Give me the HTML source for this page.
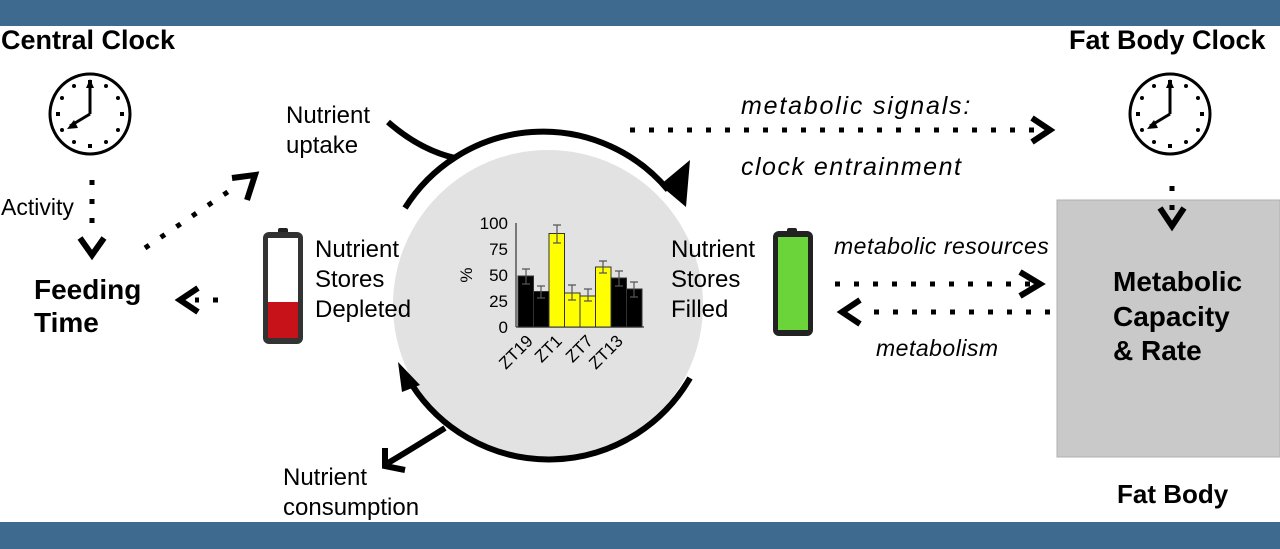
<!DOCTYPE html>
<html><head><style>
body{margin:0;width:1280px;height:549px;overflow:hidden;background:#fff}
svg{display:block}
text{font-family:"Liberation Sans",sans-serif}
</style></head><body>
<svg width="1280" height="549" viewBox="0 0 1280 549">
<rect x="0" y="0" width="1280" height="26" fill="#3f6a8f"/>
<rect x="0" y="522" width="1280" height="27" fill="#3f6a8f"/>
<!-- big circle -->
<circle cx="548" cy="305" r="155" fill="#e2e2e2"/>
<!-- grey box -->
<rect x="1057" y="200" width="223" height="257" fill="#c9c9c9" stroke="#b0b0b0"/>
<!-- titles -->
<text x="1" y="49" font-size="27" font-weight="bold">Central Clock</text>
<text x="1069" y="49" font-size="27" font-weight="bold">Fat Body Clock</text>
<text x="1117" y="503" font-size="26" font-weight="bold">Fat Body</text>
<text x="1113" y="291" font-size="28" font-weight="bold">Metabolic</text>
<text x="1113" y="326" font-size="28" font-weight="bold">Capacity</text>
<text x="1113" y="360" font-size="28" font-weight="bold">&amp; Rate</text>
<text x="34" y="299" font-size="28" font-weight="bold">Feeding</text>
<text x="34" y="332" font-size="28" font-weight="bold">Time</text>
<text x="1" y="215" font-size="23">Activity</text>
<text x="286" y="123" font-size="24">Nutrient</text>
<text x="286" y="153" font-size="24">uptake</text>
<text x="283" y="485" font-size="24">Nutrient</text>
<text x="283" y="515" font-size="24">consumption</text>
<text x="315" y="257" font-size="24">Nutrient</text>
<text x="315" y="287" font-size="24">Stores</text>
<text x="315" y="317" font-size="24">Depleted</text>
<text x="671" y="257" font-size="24">Nutrient</text>
<text x="671" y="287" font-size="24">Stores</text>
<text x="671" y="317" font-size="24">Filled</text>
<text x="741" y="114" font-size="25" font-style="italic" letter-spacing="1.8">metabolic signals:</text>
<text x="741" y="175" font-size="25" font-style="italic" letter-spacing="1.5">clock entrainment</text>
<text x="834" y="254" font-size="23" font-style="italic" letter-spacing="0.5">metabolic resources</text>
<text x="876" y="356" font-size="23" font-style="italic" letter-spacing="0.5">metabolism</text>
<!-- clocks -->
<g transform="translate(90,114)">
<circle r="40" fill="#fff" stroke="#000" stroke-width="3"/>
<g fill="#000">
<rect x="-2" y="-34" width="4" height="4"/><rect x="-2" y="30" width="4" height="4"/><rect x="-34" y="-2" width="4" height="4"/><rect x="30" y="-2" width="4" height="4"/>
<circle cx="16" cy="-28" r="2"/><circle cx="28" cy="-16" r="2"/><circle cx="28" cy="16" r="2"/><circle cx="16" cy="28" r="2"/><circle cx="-16" cy="28" r="2"/><circle cx="-28" cy="16" r="2"/><circle cx="-28" cy="-16" r="2"/><circle cx="-16" cy="-28" r="2"/>
</g>
<line x1="0" y1="0" x2="0" y2="-30" stroke="#000" stroke-width="3"/><polygon points="-4,-26 4,-26 0,-35"/>
<line x1="0" y1="0" x2="-20" y2="12" stroke="#000" stroke-width="3"/><polygon points="-16,6 -12,14 -23,15"/>
</g>
<g transform="translate(1170,114)">
<circle r="40" fill="#fff" stroke="#000" stroke-width="3"/>
<g fill="#000">
<rect x="-2" y="-34" width="4" height="4"/><rect x="-2" y="30" width="4" height="4"/><rect x="-34" y="-2" width="4" height="4"/><rect x="30" y="-2" width="4" height="4"/>
<circle cx="16" cy="-28" r="2"/><circle cx="28" cy="-16" r="2"/><circle cx="28" cy="16" r="2"/><circle cx="16" cy="28" r="2"/><circle cx="-16" cy="28" r="2"/><circle cx="-28" cy="16" r="2"/><circle cx="-28" cy="-16" r="2"/><circle cx="-16" cy="-28" r="2"/>
</g>
<line x1="0" y1="0" x2="0" y2="-30" stroke="#000" stroke-width="3"/><polygon points="-4,-26 4,-26 0,-35"/>
<line x1="0" y1="0" x2="-20" y2="12" stroke="#000" stroke-width="3"/><polygon points="-16,6 -12,14 -23,15"/>
</g>
<!-- dotted arrows -->
<g stroke="#000" stroke-width="5" fill="none" stroke-dasharray="5 14">
<line x1="92" y1="180" x2="92" y2="232"/>
<line x1="145" y1="248" x2="238" y2="185"/>
<line x1="218" y1="300" x2="195" y2="300"/>
<line x1="630" y1="130" x2="1040" y2="130"/>
<line x1="1172" y1="186" x2="1172" y2="212"/>
<line x1="835" y1="284" x2="1040" y2="284"/>
<line x1="1050" y1="312" x2="860" y2="312"/>
</g>
<g stroke="#000" stroke-width="6" fill="none">
<polyline points="80,238 92,255 104,238"/>
<polyline points="232,178 255,175 247,200"/>
<polyline points="198,288 180,300 198,312"/>
<polyline points="1032,118 1050,130 1032,142"/>
<polyline points="1160,208 1172,226 1184,208"/>
<polyline points="1020,272 1040,284 1020,296"/>
<polyline points="860,300 842,312 860,324"/>
</g>
<g stroke="#000" stroke-width="6" fill="none">
<path d="M405,208 A163,163 0 0 1 668,190"/>
<path d="M690,378 A163,163 0 0 1 412,385"/>
<path d="M388,122 Q420,150 455,158"/>
<path d="M445,428 Q410,450 388,463"/>
</g>
<polygon points="660,185 690,160 686,207" fill="#000"/>
<polygon points="398,362 420,385 402,392" fill="#000"/>
<polyline points="385,448 385,466 405,470" stroke="#000" stroke-width="6" fill="none"/>
<!-- chart -->
<g font-size="17">
<line x1="516" y1="223" x2="516" y2="327" stroke="#555" stroke-width="1.5"/>
<line x1="516" y1="327" x2="644" y2="327" stroke="#555" stroke-width="1.5"/>
<text x="508" y="229" text-anchor="end">100</text>
<text x="508" y="255" text-anchor="end">75</text>
<text x="508" y="281" text-anchor="end">50</text>
<text x="508" y="307" text-anchor="end">25</text>
<text x="508" y="333" text-anchor="end">0</text>
<text x="466" y="281" transform="rotate(-90 466 275)" text-anchor="middle">%</text>
<g stroke="#333" stroke-width="1">
<rect x="518" y="276" width="15.5" height="51" fill="#000"/>
<rect x="533.5" y="291.5" width="15.5" height="35.5" fill="#000"/>
<rect x="549" y="233.5" width="15.5" height="93.5" fill="#ffff00"/>
<rect x="564.5" y="293" width="15.5" height="34" fill="#ffff00"/>
<rect x="580" y="296" width="15.5" height="31" fill="#ffff00"/>
<rect x="595.5" y="267" width="15.5" height="60" fill="#ffff00"/>
<rect x="611" y="278" width="15.5" height="49" fill="#000"/>
<rect x="626.5" y="289" width="15.5" height="38" fill="#000"/>
</g>
<g stroke="#555" stroke-width="1.2">
<path d="M526,269v15M522,269h8M522,284h8"/>
<path d="M541,286v12M537,286h8M537,298h8"/>
<path d="M557,225v18M553,225h8M553,243h8"/>
<path d="M572,285v15M568,285h8M568,300h8"/>
<path d="M588,289v12M584,289h8M584,301h8"/>
<path d="M603,261v12M599,261h8M599,273h8"/>
<path d="M619,271v15M615,271h8M615,286h8"/>
<path d="M634,282v15M630,282h8M630,297h8"/>
</g>
<text x="534" y="342" transform="rotate(-45 534 342)" text-anchor="end">ZT19</text>
<text x="563" y="342" transform="rotate(-45 563 342)" text-anchor="end">ZT1</text>
<text x="594" y="342" transform="rotate(-45 594 342)" text-anchor="end">ZT7</text>
<text x="624" y="342" transform="rotate(-45 624 342)" text-anchor="end">ZT13</text>
</g>
<!-- batteries -->
<rect x="278" y="228" width="10" height="6" rx="2" fill="#222"/>
<rect x="263" y="232" width="40" height="112" rx="6" fill="#333"/>
<rect x="268" y="238" width="30" height="100" fill="#fff"/>
<rect x="268" y="302" width="30" height="36" fill="#c8121a"/>
<rect x="787" y="228" width="10" height="6" rx="2" fill="#222"/>
<rect x="773" y="231" width="40" height="105" rx="6" fill="#222"/>
<rect x="778" y="237" width="30" height="93" fill="#6bd43a"/>
</svg>
</body></html>
